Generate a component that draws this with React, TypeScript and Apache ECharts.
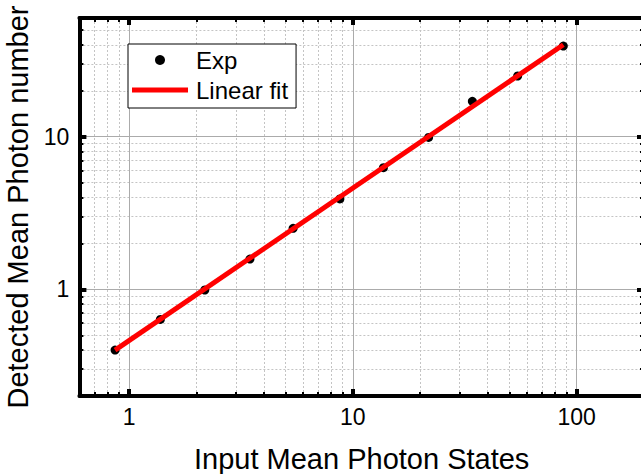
import React, { useEffect, useRef } from 'react';
import * as echarts from 'echarts';

const expX = [0.866, 1.38, 2.18, 3.47, 5.41, 8.75, 13.7, 21.8, 34.2, 54.5, 87.2];
const expY = [0.4, 0.635, 0.99, 1.58, 2.51, 3.91, 6.27, 9.9, 17.06, 25.0, 39.3];
const fitX = [0.866, 87.2];
const fitY = [0.4, 40.1];

const xMajor = [1, 10, 100];
const xMinor = [0.7, 0.8, 0.9, 2, 3, 4, 5, 6, 7, 8, 9, 20, 30, 40, 50, 60, 70, 80, 90];
const yMajor = [1, 10];
const yMinor = [0.3, 0.4, 0.5, 0.6, 0.7, 0.8, 0.9, 2, 3, 4, 5, 6, 7, 8, 9, 20, 30, 40, 50];

const X_MIN = 0.6;
const X_MAX = 200;
const Y_MIN = 0.2;
const Y_MAX = 60;

const FONT = "'Liberation Sans', Arial, sans-serif";

function makeAxis(kind: 'x' | 'y', position: string, major: boolean, main: boolean) {
  const isX = kind === 'x';
  const ticks = isX ? (major ? xMajor : xMinor) : major ? yMajor : yMinor;
  const ax: any = {
    type: 'log',
    logBase: 10,
    gridIndex: 0,
    min: isX ? X_MIN : Y_MIN,
    max: isX ? X_MAX : Y_MAX,
    position,
    axisLine: { show: major, onZero: false, lineStyle: { color: '#000', width: 4 } },
    axisTick: {
      show: true,
      inside: true,
      length: major ? 7 : 4,
      lineStyle: { color: '#000', width: major ? 4 : 2 },
      customValues: ticks,
    },
    axisLabel: { show: false },
    splitLine: { show: false },
    axisPointer: { show: false },
  };
  if (main) {
    ax.splitLine = { show: true, lineStyle: { color: '#ababab', width: 1, type: 'solid' } };
    ax.axisLabel = {
      show: true,
      customValues: ticks,
      formatter: (v: number) => String(v),
      fontSize: 23,
      color: '#000',
      fontFamily: FONT,
      margin: isX ? 9 : 10,
    };
    ax.name = isX ? 'Input Mean Photon States' : 'Detected Mean Photon number';
    ax.nameLocation = 'middle';
    ax.nameGap = isX ? 48 : 44;
    ax.nameTextStyle = { fontSize: 29, color: '#000', fontFamily: FONT };
  } else if (!major && (position === 'bottom' || position === 'left')) {
    ax.splitLine = { show: true, lineStyle: { color: '#c4c4c4', width: 1, type: [2, 2] } };
  }
  return ax;
}

export default function App() {
  const ref = useRef<HTMLDivElement>(null);
  useEffect(() => {
    if (!ref.current) return;
    const chart = echarts.init(ref.current, undefined, { renderer: 'svg' });
    const option: any = {
      animation: false,
      backgroundColor: '#fff',
      grid: { left: 79.4, right: -3, top: 18, bottom: 78, outerBoundsMode: 'none', containLabel: false },
      legend: {
        show: true,
        orient: 'vertical',
        left: 128,
        top: 44,
        padding: [4, 8, 6, 4],
        itemGap: 6,
        itemWidth: 56,
        itemHeight: 10,
        borderColor: '#000',
        borderWidth: 1,
        backgroundColor: '#fff',
        textStyle: { fontSize: 24, color: '#000', fontFamily: FONT, padding: [0, 0, 0, 3] },
        data: [
          { name: 'Exp', icon: 'circle', itemStyle: { color: '#000', opacity: 1 } },
          { name: 'Linear fit', icon: 'path://M0,0 L56,0 L56,5 L0,5 Z', itemStyle: { color: '#ff0000' } },
        ],
      },
      xAxis: [
        makeAxis('x', 'bottom', true, true),
        makeAxis('x', 'bottom', false, false),
        makeAxis('x', 'top', true, false),
        makeAxis('x', 'top', false, false),
      ],
      yAxis: [
        makeAxis('y', 'left', true, true),
        makeAxis('y', 'left', false, false),
        makeAxis('y', 'right', true, false),
        makeAxis('y', 'right', false, false),
      ],
      series: [
        {
          name: 'Exp',
          type: 'scatter',
          xAxisIndex: 0,
          yAxisIndex: 0,
          symbol: 'circle',
          symbolSize: 9,
          itemStyle: { color: '#000', opacity: 1 },
          data: expX.map((x, i) => [x, expY[i]]),
          z: 2,
        },
        {
          name: 'Linear fit',
          type: 'line',
          xAxisIndex: 0,
          yAxisIndex: 0,
          showSymbol: false,
          symbol: 'none',
          lineStyle: { color: '#ff0000', width: 5 },
          itemStyle: { color: '#ff0000' },
          data: fitX.map((x, i) => [x, fitY[i]]),
          z: 3,
        },
      ],
    };
    chart.setOption(option);
    return () => chart.dispose();
  }, []);
  return (
    <div
      ref={ref}
      style={{ position: 'absolute', left: 0, top: 0, width: 641, height: 474 }}
    />
  );
}
